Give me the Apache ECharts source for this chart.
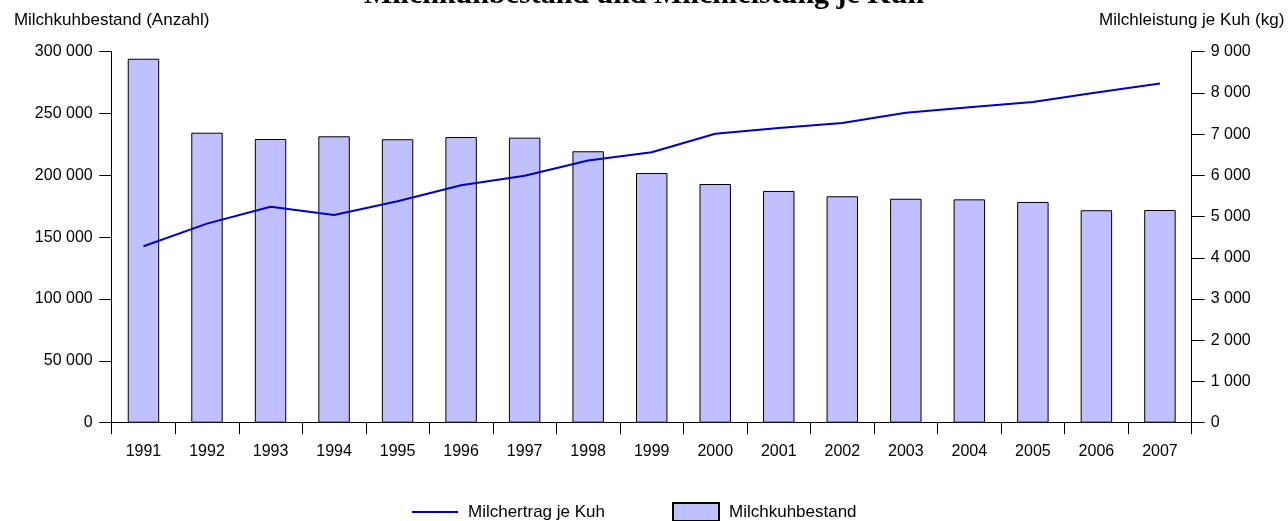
<!DOCTYPE html>
<html>
<head>
<meta charset="utf-8">
<script src="https://cdn.jsdelivr.net/npm/echarts@6/dist/echarts.min.js"></script>
<style>
  html, body { margin: 0; padding: 0; background: #fff; }
  #chart { width: 1288px; height: 521px; }
</style>
</head>
<body>
<div id="chart"></div>
<script>
// Jahre
const years = ['1991', '1992', '1993', '1994', '1995', '1996', '1997', '1998', '1999',
  '2000', '2001', '2002', '2003', '2004', '2005', '2006', '2007']
// Milchkuhbestand (Anzahl)
const bestand = [294300, 234500, 229400, 231600, 229200, 231000, 230500, 219500, 201900,
  193000, 187400, 183100, 181100, 180600, 178500, 171800, 172000]
// Milchertrag je Kuh (kg)
const ertrag = [4280, 4830, 5240, 5040, 5370, 5760, 5990, 6360, 6560,
  7010, 7150, 7270, 7520, 7650, 7780, 8010, 8230]

const fmt = v => String(v).replace(/\B(?=(\d{3})+(?!\d))/g, ' ')
const font = '"Liberation Sans", Arial, sans-serif'
const lineColor = '#0000c0'

let myChart = echarts.init(document.getElementById('chart'))
let option = {
  animation: false,
  textStyle: { fontFamily: font },
  title: {
    text: 'Milchkuhbestand und Milchleistung je Kuh',
    left: 'center',
    top: -20,
    padding: 0,
    textStyle: {
      fontFamily: '"Liberation Serif", "Times New Roman", serif',
      fontWeight: 'bold',
      fontSize: 30,
      color: '#000'
    }
  },
  legend: {
    top: 502,
    left: 412,
    padding: 0,
    itemWidth: 46,
    itemHeight: 18,
    itemGap: 67,
    textStyle: { fontFamily: font, fontSize: 17, color: '#000', padding: [0, 0, 0, 5] },
    data: [
      { name: 'Milchertrag je Kuh', icon: 'path://M0,0H46V2H0Z', itemStyle: { color: lineColor, borderWidth: 0 } },
      { name: 'Milchkuhbestand', icon: 'rect' }
    ]
  },
  grid: { left: 111.7, right: 96.3, top: 51.7, bottom: 98.3, containLabel: false },
  xAxis: {
    type: 'category',
    data: years,
    boundaryGap: true,
    axisLine: { lineStyle: { color: '#000', width: 1 } },
    axisTick: { show: true, length: 11.5, lineStyle: { color: '#000' } },
    axisLabel: { color: '#000', fontSize: 16, margin: 21, fontFamily: font }
  },
  yAxis: [
    {
      type: 'value',
      min: 0,
      max: 300000,
      interval: 50000,
      name: 'Milchkuhbestand (Anzahl)',
      nameLocation: 'end',
      nameGap: 23,
      nameTextStyle: { color: '#000', fontSize: 17, fontFamily: font, align: 'center' },
      axisLine: { show: true, lineStyle: { color: '#000' } },
      axisTick: { show: true, length: 12.5, lineStyle: { color: '#000' } },
      splitLine: { show: false },
      axisLabel: { color: '#000', fontSize: 16, margin: 19, formatter: fmt }
    },
    {
      type: 'value',
      min: 0,
      max: 9000,
      interval: 1000,
      position: 'right',
      name: 'Milchleistung je Kuh (kg)',
      nameLocation: 'end',
      nameGap: 23,
      nameTextStyle: { color: '#000', fontSize: 17, fontFamily: font, align: 'center' },
      axisLine: { show: true, lineStyle: { color: '#000' } },
      axisTick: { show: true, length: 13, lineStyle: { color: '#000' } },
      splitLine: { show: false },
      axisLabel: { color: '#000', fontSize: 16, margin: 19, formatter: fmt }
    }
  ],
  series: [
    {
      name: 'Milchkuhbestand',
      type: 'bar',
      yAxisIndex: 0,
      data: bestand,
      barWidth: '49.5%',
      itemStyle: { color: '#c0c0ff', borderColor: '#000', borderWidth: 1 },
      z: 1
    },
    {
      name: 'Milchertrag je Kuh',
      type: 'line',
      yAxisIndex: 1,
      data: ertrag,
      symbol: 'none',
      lineStyle: { color: lineColor, width: 2 },
      itemStyle: { color: lineColor },
      z: 3
    }
  ]
}
myChart.setOption(option)
</script>
</body>
</html>
